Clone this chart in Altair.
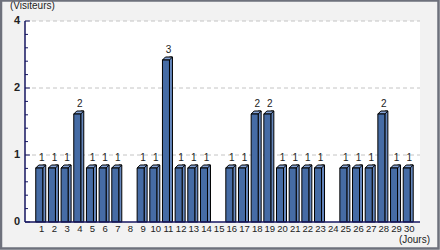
import altair as alt
import pandas as pd

# ---- data ----
days = list(range(1, 31))
visitors = [1, 1, 1, 2, 1, 1, 1, 0, 1, 1, 3, 1, 1, 1, 0,
            1, 1, 2, 2, 1, 1, 1, 1, 0, 1, 1, 1, 2, 1, 1]
# y-axis labels (drawn at equal steps, as in the source chart)
ytick_pos = [0, 1, 2, 3]
ytick_labels = ["0", "1", "2", "4"]
minor_ticks = [0.2, 0.4, 0.6, 0.8, 1.2, 1.4, 1.6, 1.8, 2.2, 2.4, 2.6, 2.8]
grid_pos = [1, 2, 3]

FRONT = "#466ca5"
SIDE = "#6587bd"
TOP = "#86a4d6"
AXIS = "#161660"
FONT = "Liberation Sans"

df = pd.DataFrame({"day": days, "v": visitors})
bars_df = df[df["v"] > 0]
ylab_df = pd.DataFrame({"g": ytick_pos, "lab": ytick_labels})
minor_df = pd.DataFrame({"g": minor_ticks})
grid_df = pd.DataFrame({"g": grid_pos})
one = pd.DataFrame({"a": [0]})

xs = alt.Scale(domain=[0.2692, 30.654], nice=False, zero=False)
ys_bar = alt.Scale(domain=[0, 201 / 54], nice=False, zero=False)
ys_ax = alt.Scale(domain=[0, 3], nice=False, zero=False)

X = alt.X("day:Q", scale=xs, axis=None)
Yb = alt.Y("v:Q", scale=ys_bar, axis=None)
Yg = alt.Y("g:Q", scale=ys_ax, axis=None)

grid = alt.Chart(grid_df).mark_rule(color="#c4c4c4", strokeDash=[4, 3], strokeWidth=1).encode(
    y=Yg, x=alt.value(0), x2=alt.value(395))

side = alt.Chart(bars_df).mark_bar(width=3, xOffset=5, yOffset=-3, fill=SIDE,
                                   stroke="black", strokeWidth=1).encode(
    x=X, y=Yb, y2=alt.datum(0))

top = alt.Chart(bars_df).mark_point(
    shape="M-1,0.3L0.4,0.3L1,-0.3L-0.4,-0.3Z", size=100, filled=True, fill=TOP,
    stroke="black", strokeWidth=1, opacity=1, xOffset=1.5, yOffset=-1.5).encode(x=X, y=Yb)

front = alt.Chart(bars_df).mark_bar(width=7, fill=FRONT, stroke="black", strokeWidth=1).encode(
    x=X, y=Yb)

vlabels = alt.Chart(bars_df).mark_text(dy=-7, baseline="alphabetic", xOffset=2.5, font=FONT,
                                       fontSize=10, color="#222222").encode(
    x=X, y=Yb, text="v:Q")

dlabels = alt.Chart(df).mark_text(baseline="middle", xOffset=2.5, font=FONT, fontSize=9.5,
                                  color="#222222").encode(
    x=X, y=alt.value(208), text="day:Q")

ylabels = alt.Chart(ylab_df).mark_text(align="right", baseline="middle", font=FONT, fontSize=11,
                                       fontWeight="bold", color="#222222").encode(
    y=Yg, x=alt.value(-5), text="lab:N")

major_t = alt.Chart(ylab_df).mark_rule(color=AXIS, strokeWidth=1).encode(
    y=Yg, x=alt.value(0), x2=alt.value(5))
minor_t = alt.Chart(minor_df).mark_rule(color=AXIS, strokeWidth=1).encode(
    y=Yg, x=alt.value(0), x2=alt.value(3))

yaxis = alt.Chart(one).mark_rule(color=AXIS, strokeWidth=1.5).encode(
    x=alt.value(0), y=alt.value(0), y2=alt.value(201))
xaxis = alt.Chart(one).mark_rule(color=AXIS, strokeWidth=1.5).encode(
    y=alt.value(201), x=alt.value(0), x2=alt.value(395))

ytitle = alt.Chart(one).mark_text(text="(Visiteurs)", align="left", baseline="middle", font=FONT,
                                  fontSize=10, color="#222222").encode(
    x=alt.value(-15), y=alt.value(-15))
xtitle = alt.Chart(one).mark_text(text="(Jours)", align="right", baseline="middle", font=FONT,
                                  fontSize=10, color="#222222").encode(
    x=alt.value(405), y=alt.value(219))

frame = alt.Chart(one).mark_rect(fillOpacity=0, stroke="#6e717c", strokeWidth=2.5).encode(
    x=alt.value(-24), x2=alt.value(413.5), y=alt.value(-20.5), y2=alt.value(227.5))

chart = alt.layer(
    grid, side, top, front, vlabels, dlabels, ylabels, major_t, minor_t,
    yaxis, xaxis, ytitle, xtitle, frame
).resolve_scale(y="independent").properties(
    width=395, height=201,
    autosize=alt.AutoSizeParams(type="none"),
    padding={"left": 25, "top": 21, "right": 20, "bottom": 28},
    background="#f2f2f2",
).configure_view(fill="white", strokeWidth=0)

chart.save("out.html", embed_options={"renderer": "svg", "actions": False})
